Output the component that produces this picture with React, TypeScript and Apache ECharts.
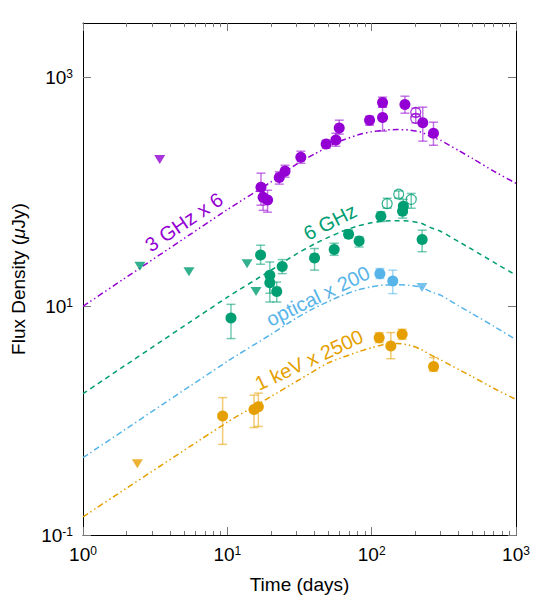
import React, { useEffect, useRef } from "react";
import * as echarts from "echarts";

// ---- axes ----
const majorX = [1, 10, 100, 1000];
const minorX = [2, 3, 4, 5, 6, 7, 8, 9, 20, 30, 40, 50, 60, 70, 80, 90, 200, 300, 400, 500, 600, 700, 800, 900];
const majorY = [0.1, 10, 1000];

// ---- model curves ----
const modelDays = [1, 10, 20, 30, 40, 50, 60, 80, 100, 120, 150, 180, 220, 260, 300, 400, 500, 700, 1000];
const model3GHz = [10, 70, 122, 174, 214, 248, 277, 315, 336, 347, 351, 348, 333, 302, 283, 230, 196, 152, 119];
const model6GHz = [1.72, 12.0, 20.6, 28.6, 35, 40, 44.3, 50.4, 53.8, 55.5, 56, 55.6, 53.3, 48.3, 45.3, 36.8, 31.3, 24.3, 18.7];
const modelOptical = [0.474, 3.3, 5.67, 7.87, 9.63, 11.0, 12.2, 13.9, 14.8, 15.3, 15.4, 15.3, 14.7, 13.3, 12.5, 10.1, 8.6, 6.7, 5.1];
const modelXray = [0.144, 0.97, 1.62, 2.2, 2.72, 3.2, 3.5, 3.98, 4.35, 4.6, 4.72, 4.6, 4.2, 3.72, 3.4, 2.8, 2.42, 1.92, 1.53];

// ---- 3 GHz x 6 ----
const r3Days = [17.1, 17.7, 19.0, 22.9, 25.1, 32.3, 48.4, 56.5, 59.6, 96.7, 119, 119, 170, 226, 268];
const r3Flux = [110, 90, 85, 134, 152, 201, 262, 285, 363, 424, 448, 606, 582, 402, 326];
const r3Lo = [76.5, 69, 66.5, 117, 134.5, 178, 241, 251, 320, 383, 340, 551, 488, 278, 256];
const r3Hi = [146, 114, 103.5, 150, 171, 227, 283, 326, 424, 459, 551, 674, 687, 551, 407];
const r3OpenDays = [202, 202];
const r3OpenFlux = [495, 439];
const r3OpenLo = [455, 402];
const r3OpenHi = [540, 480];
const r3LimDays = [3.4];
const r3LimFlux = [192];

// ---- 6 GHz ----
const r6Days = [10.6, 17.0, 19.7, 19.7, 22.0, 24.0, 40.2, 55.0, 69.2, 81.9, 115.8, 165.8, 163.7, 223.7];
const r6Flux = [7.9, 28.1, 18.7, 16.1, 13.5, 22.3, 26.5, 31.3, 42.7, 37.3, 61.3, 75.0, 67.8, 38.3];
const r6Lo = [5.22, 23.3, 10.9, 13.0, 10.9, 19.3, 20.7, 27.9, 39.9, 33.0, 55.0, 65.2, 59, 30.0];
const r6Hi = [10.4, 34.2, 24.4, 19.0, 16.3, 25.6, 32.0, 35.6, 46.4, 40.4, 67.0, 86.0, 78, 46.3];
const r6OpenDays = [128, 154, 188];
const r6OpenFlux = [79, 95.5, 86];
const r6OpenLo = [72, 88, 72];
const r6OpenHi = [88, 102, 97];
const r6LimDays = [2.48, 5.42, 13.7, 15.8];
const r6LimFlux = [22.4, 20.0, 23.6, 13.5];

// ---- optical x 200 ----
const optDays = [114, 140];
const optFlux = [19.3, 16.6];
const optLo = [17.5, 12.9];
const optHi = [21.4, 20.7];
const optLimDays = [223];
const optLimFlux = [14.6];

// ---- 1 keV x 2500 ----
const xDays = [9.28, 15.3, 16.4, 112.7, 135.8, 162.6, 268.4];
const xFlux = [1.1, 1.25, 1.32, 5.32, 4.49, 5.69, 2.97];
const xLo = [0.62, 0.87, 0.89, 4.81, 3.48, 5.14, 2.7];
const xHi = [1.59, 1.67, 1.74, 5.89, 5.89, 6.29, 3.56];
const xLimDays = [2.38];
const xLimFlux = [0.42];

const PURPLE = "#9400d3";
const GREEN = "#009e73";
const BLUE = "#56b4e9";
const ORANGE = "#e69f00";
const FONT = "'Liberation Sans', Arial, Helvetica, sans-serif";
const TRI = "path://M0,0L10,0L5,8Z";

const zip2 = (a: number[], b: number[]) => a.map((v, i) => [v, b[i]]);
const zip3 = (a: number[], b: number[], c: number[]) => a.map((v, i) => [v, b[i], c[i]]);

function errSeries(days: number[], lo: number[], hi: number[], color: string, z = 3) {
  return {
    type: "custom",
    z,
    xAxisIndex: 0,
    yAxisIndex: 0,
    data: zip3(days, lo, hi),
    renderItem: (params: any, api: any) => {
      const x = api.value(0);
      const p1 = api.coord([x, api.value(1)]);
      const p2 = api.coord([x, api.value(2)]);
      const w = 4.5;
      const st = { stroke: color, lineWidth: 1.5, opacity: 0.55 };
      return {
        type: "group",
        children: [
          { type: "line", shape: { x1: p1[0], y1: p1[1], x2: p2[0], y2: p2[1] }, style: st },
          { type: "line", shape: { x1: p1[0] - w, y1: p1[1], x2: p1[0] + w, y2: p1[1] }, style: st },
          { type: "line", shape: { x1: p2[0] - w, y1: p2[1], x2: p2[0] + w, y2: p2[1] }, style: st },
        ],
      };
    },
  };
}

function dots(days: number[], flux: number[], color: string) {
  return {
    type: "scatter",
    z: 4,
    data: zip2(days, flux),
    symbol: "circle",
    symbolSize: 11,
    itemStyle: { color, opacity: 1 },
  };
}

function openDots(days: number[], flux: number[], color: string) {
  return {
    type: "scatter",
    z: 4,
    data: zip2(days, flux),
    symbol: "circle",
    symbolSize: 10,
    itemStyle: { color: "rgba(0,0,0,0)", borderColor: color, borderWidth: 1.2 },
  };
}

function limits(days: number[], flux: number[], color: string) {
  return {
    type: "scatter",
    z: 4,
    data: zip2(days, flux),
    symbol: TRI,
    symbolSize: [11, 9],
    itemStyle: { color },
  };
}

function curve(vals: number[], color: string, dash: number[]) {
  return {
    type: "line",
    z: 2,
    data: zip2(modelDays, vals),
    showSymbol: false,
    smooth: 0.2,
    lineStyle: { color, width: 1.5, type: dash },
  };
}

const powLabel = (v: number) => {
  const e = Math.round(Math.log10(v));
  return "10{sup|" + e + "}";
};
const labelRich = {
  sup: { fontSize: 12, verticalAlign: "top", lineHeight: 12, fontFamily: FONT, color: "#000" },
};

function xAxis(pos: "top" | "bottom", major: boolean) {
  return {
    type: "log",
    logBase: 10,
    min: 1,
    max: 1000,
    position: pos,
    gridIndex: 0,
    axisLine: { show: major, lineStyle: { color: "#000", width: 1 } },
    axisTick: {
      show: true,
      inside: true,
      length: major ? 8 : 4,
      customValues: major ? majorX : minorX,
      lineStyle: { color: "#777", width: 1 },
    },
    axisLabel: {
      show: major && pos === "bottom",
      customValues: majorX,
      formatter: powLabel,
      margin: 10,
      color: "#000",
      fontSize: 19,
      fontFamily: FONT,
      rich: labelRich,
    },
    splitLine: { show: false },
    minorTick: { show: false },
    name: major && pos === "bottom" ? "Time (days)" : "",
    nameLocation: "middle",
    nameGap: 40,
    nameTextStyle: { fontSize: 19, fontFamily: FONT, color: "#000" },
  };
}

function yAxis(pos: "left" | "right") {
  return {
    type: "log",
    logBase: 10,
    min: 0.1,
    max: 3000,
    position: pos,
    axisLine: { show: true, lineStyle: { color: "#000", width: 1 } },
    axisTick: {
      show: true,
      inside: true,
      length: 8,
      customValues: majorY,
      lineStyle: { color: "#777", width: 1 },
    },
    axisLabel: {
      show: pos === "left",
      customValues: majorY,
      formatter: powLabel,
      margin: 10,
      color: "#000",
      fontSize: 19,
      fontFamily: FONT,
      rich: labelRich,
    },
    splitLine: { show: false },
    name: pos === "left" ? "Flux Density ({i|\u03bc}Jy)" : "",
    nameLocation: "middle",
    nameGap: 55,
    nameRotate: 90,
    nameTextStyle: {
      fontSize: 19,
      fontFamily: FONT,
      color: "#000",
      rich: { i: { fontStyle: "italic", fontSize: 19, fontFamily: FONT, color: "#000" } },
    },
  };
}

export default function App() {
  const ref = useRef<HTMLDivElement>(null);
  useEffect(() => {
    if (!ref.current) return;
    const chart = echarts.init(ref.current, undefined, { renderer: "svg" });
    const deg = Math.PI / 180;
    const label = (text: string, x: number, y: number, rot: number, color: string) => ({
      type: "text",
      x,
      y,
      rotation: rot * deg,
      z: 10,
      style: {
        text,
        fill: color,
        font: "20px " + FONT,
        textAlign: "center",
        textVerticalAlign: "middle",
      },
    });
    chart.setOption({
      animation: false,
      backgroundColor: "#fff",
      textStyle: { fontFamily: FONT },
      grid: { left: 83, right: 34, top: 23, bottom: 65, containLabel: false },
      xAxis: [xAxis("bottom", true), xAxis("bottom", false), xAxis("top", true), xAxis("top", false)],
      yAxis: [yAxis("left"), yAxis("right")],
      series: [
        curve(model3GHz, PURPLE, [6, 3, 1.5, 3, 1.5, 3]),
        curve(model6GHz, GREEN, [5, 4]),
        curve(modelOptical, BLUE, [6, 3, 1.5, 3]),
        curve(modelXray, ORANGE, [6, 3, 1.5, 3, 1.5, 3]),
        errSeries(r3Days, r3Lo, r3Hi, PURPLE),
        errSeries(r3OpenDays, r3OpenLo, r3OpenHi, PURPLE, 5),
        dots(r3Days, r3Flux, PURPLE),
        openDots(r3OpenDays, r3OpenFlux, PURPLE),
        limits(r3LimDays, r3LimFlux, PURPLE),
        errSeries(r6Days, r6Lo, r6Hi, GREEN),
        errSeries(r6OpenDays, r6OpenLo, r6OpenHi, GREEN, 5),
        dots(r6Days, r6Flux, GREEN),
        openDots(r6OpenDays, r6OpenFlux, GREEN),
        limits(r6LimDays, r6LimFlux, GREEN),
        errSeries(optDays, optLo, optHi, BLUE),
        dots(optDays, optFlux, BLUE),
        limits(optLimDays, optLimFlux, BLUE),
        errSeries(xDays, xLo, xHi, ORANGE),
        dots(xDays, xFlux, ORANGE),
        limits(xLimDays, xLimFlux, ORANGE),
      ],
      graphic: [
        label("3 GHz x 6", 184, 222, 34, PURPLE),
        label("6 GHz", 330, 222, 27, GREEN),
        label("optical x 200", 318, 296, 26, BLUE),
        label("1 keV x 2500", 309, 360, 25, ORANGE),
      ],
    });
    return () => chart.dispose();
  }, []);
  return (
    <div
      ref={ref}
      style={{ position: "fixed", left: 0, top: 0, width: 550, height: 600, background: "#fff" }}
    />
  );
}
